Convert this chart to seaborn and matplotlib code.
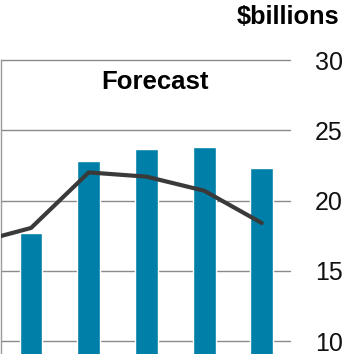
import matplotlib
matplotlib.use("Agg")
import matplotlib.pyplot as plt
import seaborn as sns
import numpy as np

# Data
bar_x = [0, 1, 2, 3, 4]
bar_values = [17.7, 22.8, 23.65, 23.8, 22.3]
line_x = [-1, 0, 1, 2, 3, 4]
line_values = [16.95, 18.05, 22.0, 21.7, 20.7, 18.4]
y_ticks = [10, 15, 20, 25, 30]
forecast_label = "Forecast"
unit_label = "$billions"

sns.set_style("white")
plt.rcParams['font.family'] = ['Liberation Sans', 'DejaVu Sans']

fig = plt.figure(figsize=(3.53, 3.54), dpi=100)
ax = fig.add_axes([0.003, 0.0, 289 / 353, 294 / 354])

sns.barplot(x=bar_x, y=bar_values, native_scale=True, width=0.395,
            color="#0080A8", saturation=1, ax=ax, zorder=2)
sns.lineplot(x=line_x, y=line_values, color="#3a3a3a", linewidth=3.0,
             ax=ax, zorder=3)

ax.set_xlim(-0.52, 4.49)
ax.set_ylim(9.08, 30)
ax.set_yticks(y_ticks)
ax.yaxis.tick_right()
ax.tick_params(axis='y', length=0, pad=18, labelsize=18, labelcolor="#111111")
ax.set_xticks([])
ax.set_xlabel("")
ax.set_ylabel("")

for t in y_ticks:
    ax.axhline(t, color="#8a8a8a", linewidth=1.0, zorder=1, clip_on=False)

for s in ["top", "right", "bottom"]:
    ax.spines[s].set_visible(False)
ax.spines["left"].set_color("#9a9a9a")
ax.spines["left"].set_linewidth(1.0)

ax.text(2.14, 28.45, forecast_label, ha="center", va="center",
        fontsize=18.5, fontweight="bold", color="#000000")
fig.text(339 / 353, 1 - 17 / 354, unit_label, ha="right", va="center",
         fontsize=18.3, fontweight="bold", color="#000000")

fig.savefig("out.png", dpi=100)
